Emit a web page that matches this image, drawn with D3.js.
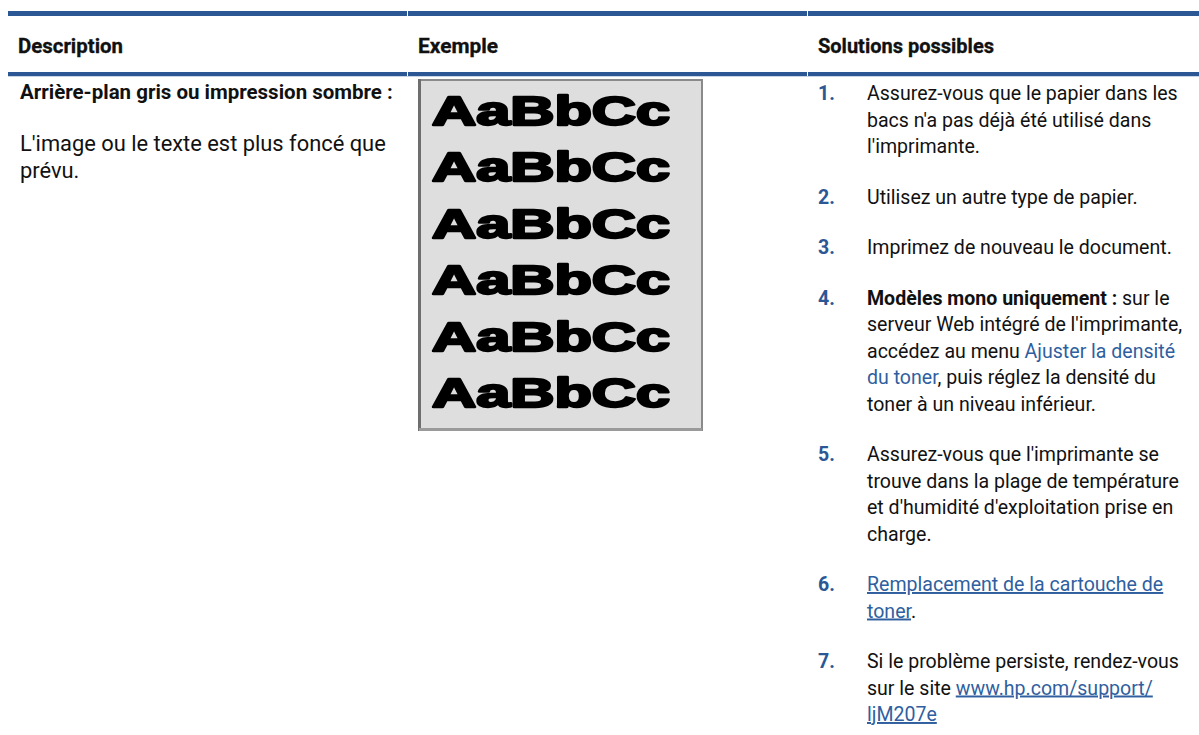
<!DOCTYPE html>
<html><head><meta charset="utf-8">
<script src="https://cdn.jsdelivr.net/npm/d3@7"></script>
<style>body{margin:0;background:#fff} svg{display:block}</style>
</head><body>
<svg id="c" width="1199" height="735"></svg>
<script>
const columns = ["Description", "Exemple", "Solutions possibles"];
const headerWidths = [105, 80, 176];
const descTitle = "Arrière-plan gris ou impression sombre :";
const descLines = ["L'image ou le texte est plus foncé que", "prévu."];
const sampleRows = ["AaBbCc","AaBbCc","AaBbCc","AaBbCc","AaBbCc","AaBbCc"];
const stepNumbers = ["1.","2.","3.","4.","5.","6.","7."];
// segment styles: n = normal, b = bold, l = blue text, u = blue underlined link
const step1 = [[["Assurez-vous que le papier dans les","n"]],[["bacs n'a pas déjà été utilisé dans","n"]],[["l'imprimante.","n"]]];
const step2 = [[["Utilisez un autre type de papier.","n"]]];
const step3 = [[["Imprimez de nouveau le document.","n"]]];
const step4 = [[["Modèles mono uniquement :","b"],[" sur le","n"]],[["serveur Web intégré de l'imprimante,","n"]],[["accédez au menu ","n"],["Ajuster la densité","l"]],[["du toner","l"],[", puis réglez la densité du","n"]],[["toner à un niveau inférieur.","n"]]];
const step5 = [[["Assurez-vous que l'imprimante se","n"]],[["trouve dans la plage de température","n"]],[["et d'humidité d'exploitation prise en","n"]],[["charge.","n"]]];
const step6 = [[["Remplacement de la cartouche de","u"]],[["toner","u"],[".","n"]]];
const step7 = [[["Si le problème persiste, rendez-vous","n"]],[["sur le site ","n"],["www.hp.com/support/","u"]],[["ljM207e","u"]]];
const steps = [step1, step2, step3, step4, step5, step6, step7];

const BLUE = "#2b5795", LINK = "#2f5f9f", TEXT = "#111";
const FONT = "Roboto, 'Noto Sans', sans-serif";
const svg = d3.select("#c");

function fit(str, weight, target){
  const t = svg.append("text").attr("font-family",FONT).attr("font-weight",weight).attr("font-size",100).text(str);
  const w = t.node().getComputedTextLength(); t.remove();
  return 100*target/w;
}
const bodySize = fit("Assurez-vous que le papier dans les", 400, 311);
const descSize = fit(descLines[0], 400, 366);
const boldSize = fit(descTitle, 700, 373);

const x = d3.scaleBand().domain(columns).range([8, 1208]);

// header bars
const bars = svg.append("g");
[[11,5],[72,4]].forEach(([yy,h])=>{
  bars.selectAll(null).data(columns).enter().append("rect")
    .attr("x", d=>x(d)).attr("width", x.bandwidth()-1).attr("y", yy).attr("height", h).attr("fill", BLUE);
});
svg.append("rect").attr("x",8).attr("width",1191).attr("y",76).attr("height",1).attr("fill","#c9d4e4");

svg.selectAll(".hd").data(columns).enter().append("text")
  .attr("x", d=>x(d)+10).attr("y", 53)
  .attr("font-family",FONT).attr("font-weight",700).attr("font-size",20).attr("fill",TEXT)
  .attr("stroke",TEXT).attr("stroke-width",0.3)
  .attr("textLength",(d,i)=>headerWidths[i]).attr("lengthAdjust","spacingAndGlyphs")
  .text(d=>d);

const lh = 26.5, gap = 24, rowTop = 100;

// description column
const dx = x(columns[0]) + 12;
svg.append("text").attr("x",dx).attr("y",99).attr("font-family",FONT).attr("font-weight",700)
  .attr("font-size",boldSize).attr("fill",TEXT).text(descTitle);
svg.selectAll(".dl").data(descLines).enter().append("text")
  .attr("x",dx).attr("y",(d,i)=>151+i*lh).attr("font-family",FONT).attr("font-size",descSize).attr("fill",TEXT).text(d=>d);

// example image
const ex = x(columns[1]) + 11;
const img = svg.append("g");
img.append("rect").attr("x",ex).attr("y",80).attr("width",283).attr("height",350).attr("fill","#dedede")
  .attr("stroke","#8a8a8a").attr("stroke-width",2);
img.append("rect").attr("x",ex-1).attr("y",79).attr("width",3).attr("height",352).attr("fill","#6e6e6e");
img.append("rect").attr("x",ex).attr("y",428).attr("width",283).attr("height",3).attr("fill","#9a9a9a");
const defs = svg.append("defs");
defs.append("filter").attr("id","blur").append("feGaussianBlur").attr("stdDeviation",0.7);
const sy = d3.scaleLinear().domain([0,5]).range([125,407]);
img.selectAll(".s").data(sampleRows).enter().append("text")
  .attr("x",ex+13).attr("y",(d,i)=>sy(i))
  .attr("font-family","'Liberation Sans', Arial, sans-serif").attr("font-weight",700).attr("font-size",41)
  .attr("stroke","#000").attr("stroke-width",2.4).attr("stroke-linejoin","round").attr("fill","#000")
  .attr("textLength",238).attr("lengthAdjust","spacingAndGlyphs").attr("filter","url(#blur)")
  .text(d=>d);

// solutions column
const nx = x(columns[2]) + 10, tx = nx + 49;
let yPos = rowTop;
steps.forEach((lines, k)=>{
  svg.append("text").attr("x",nx).attr("y",yPos).attr("font-family",FONT).attr("font-weight",700)
    .attr("font-size",bodySize).attr("fill",BLUE).text(stepNumbers[k]);
  lines.forEach((segs, j)=>{
    const t = svg.append("text").attr("x",tx).attr("y",yPos+j*lh).attr("font-family",FONT).attr("font-size",bodySize);
    segs.forEach(([s,st])=>{
      t.append("tspan").attr("font-weight", st==="b"?700:400)
        .attr("fill", (st==="l"||st==="u")?LINK:TEXT)
        .attr("text-decoration", st==="u"?"underline":null)
        .style("white-space","pre")
        .text(s);
    });
  });
  yPos += lines.length*lh + gap;
});
</script>
</body></html>
